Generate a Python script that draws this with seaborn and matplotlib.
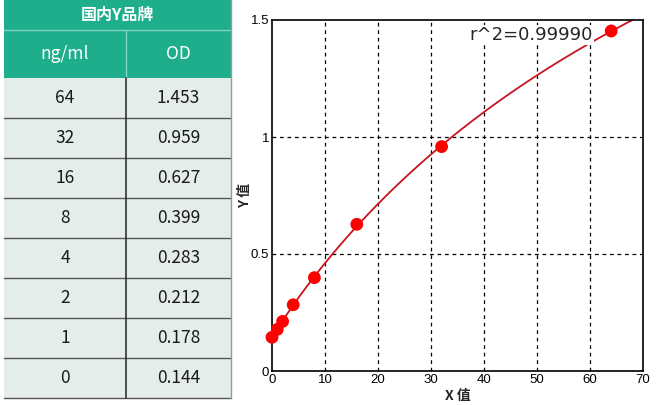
import numpy as np
import pandas as pd
import matplotlib
matplotlib.use('Agg')
import matplotlib.pyplot as plt
import seaborn as sns
from matplotlib.patches import Rectangle

sns.set_theme(style='white')
plt.rcParams['font.family'] = ['Noto Sans CJK SC', 'DejaVu Sans']

# data
brand = '国内Y品牌'
col_names = ['ng/ml', 'OD']
conc = [64, 32, 16, 8, 4, 2, 1, 0]
od = [1.453, 0.959, 0.627, 0.399, 0.283, 0.212, 0.178, 0.144]
r2_text = 'r^2=0.99990'

teal = '#1fae8c'
body = '#e5edeb'

fig = plt.figure(figsize=(6.66, 4.05), dpi=100)

# ---- table drawn in pixel coordinates ----
tab = fig.add_axes([0, 0, 240 / 666, 1])
tab.set_xlim(0, 240)
tab.set_ylim(405, 0)
tab.axis('off')
x0, x1, xm = 4, 231, 126
tab.add_patch(Rectangle((x0, 0), x1 - x0, 78, color=teal, lw=0))
tab.plot([x0, x1], [30, 30], color='#7fd6c2', lw=1)
tab.plot([xm, xm], [30, 78], color='#7fd6c2', lw=1)
tab.text((x0 + x1) / 2, 15, brand, color='white', fontsize=11.5,
         fontweight='bold', ha='center', va='center')
tab.text((x0 + xm) / 2, 54, col_names[0], color='white', fontsize=12.5,
         ha='center', va='center')
tab.text((xm + x1) / 2, 54, col_names[1], color='white', fontsize=12.5,
         ha='center', va='center')
row_h = 40
top = 78
tab.add_patch(Rectangle((x0, top), x1 - x0, row_h * len(conc), color=body, lw=0))
for i, (c, v) in enumerate(zip(conc, od)):
    yc = top + row_h * i + row_h / 2
    tab.text((x0 + xm) / 2, yc, str(c), color='#1a1a1a', fontsize=12.5,
             ha='center', va='center')
    tab.text((xm + x1) / 2, yc, f'{v:.3f}', color='#1a1a1a', fontsize=12.5,
             ha='center', va='center')
    tab.plot([x0, x1], [top + row_h * (i + 1)] * 2, color='#555555', lw=1)
tab.plot([xm, xm], [top, top + row_h * len(conc)], color='#333333', lw=1.2)
tab.plot([x1, x1], [0, top + row_h * len(conc)], color='#999999', lw=1)

# ---- standard curve ----
ax = fig.add_axes([272 / 666, 34 / 405, 371 / 666, 351 / 405])

x = np.array(conc, dtype=float)
y = np.array(od)
# fit y = a + V*x^b/(K^b + x^b) by grid search on (b, K), lstsq for a, V
best = None
for b in np.linspace(0.8, 1.3, 51):
    for K in np.linspace(20, 300, 281):
        g = x ** b / (K ** b + x ** b)
        A = np.column_stack([np.ones_like(g), g])
        coef, *_ = np.linalg.lstsq(A, y, rcond=None)
        err = np.sum((A @ coef - y) ** 2)
        if best is None or err < best[0]:
            best = (err, b, K, coef)
_, b, K, (a, V) = best
xf = np.linspace(0, 70, 300)
yf = a + V * xf ** b / (K ** b + xf ** b)
fit = pd.DataFrame({'x': xf, 'y': yf})
pts = pd.DataFrame({'x': x, 'y': y})

sns.lineplot(data=fit, x='x', y='y', ax=ax, color='#c8141e', lw=1.3)
sns.scatterplot(data=pts, x='x', y='y', ax=ax, color='#ff0000', s=85,
                edgecolor='none', zorder=5, clip_on=False)

ax.set_xlim(0, 70)
ax.set_ylim(0, 1.5)
ax.set_xticks(range(0, 71, 10))
ax.set_yticks([0, 0.5, 1, 1.5])
ax.set_yticklabels(['0', '0.5', '1', '1.5'])
for v in range(10, 70, 10):
    ax.axvline(v, color='black', ls=(0, (3, 3)), lw=0.9, zorder=0)
for v in [0.5, 1]:
    ax.axhline(v, color='black', ls=(0, (3, 3)), lw=0.9, zorder=0)
for s in ax.spines.values():
    s.set_color('black')
    s.set_linewidth(1.2)
ax.tick_params(length=0, labelsize=9.5, colors='black', pad=2)
for lab in ax.get_xticklabels() + ax.get_yticklabels():
    lab.set_family(['Liberation Sans', 'DejaVu Sans'])
ax.set_xlabel('X 值', fontsize=10, fontweight='bold', labelpad=2)
ax.set_ylabel('Y 值', fontsize=10, fontweight='bold')
ax.yaxis.set_label_coords(-0.055, 0.5)
ax.text(37.3, 1.436, r2_text, fontsize=13, ha='left', va='center',
        family=['DejaVu Sans'],
        bbox=dict(facecolor='white', edgecolor='none', pad=0.5))

fig.savefig('out.png', dpi=100)
